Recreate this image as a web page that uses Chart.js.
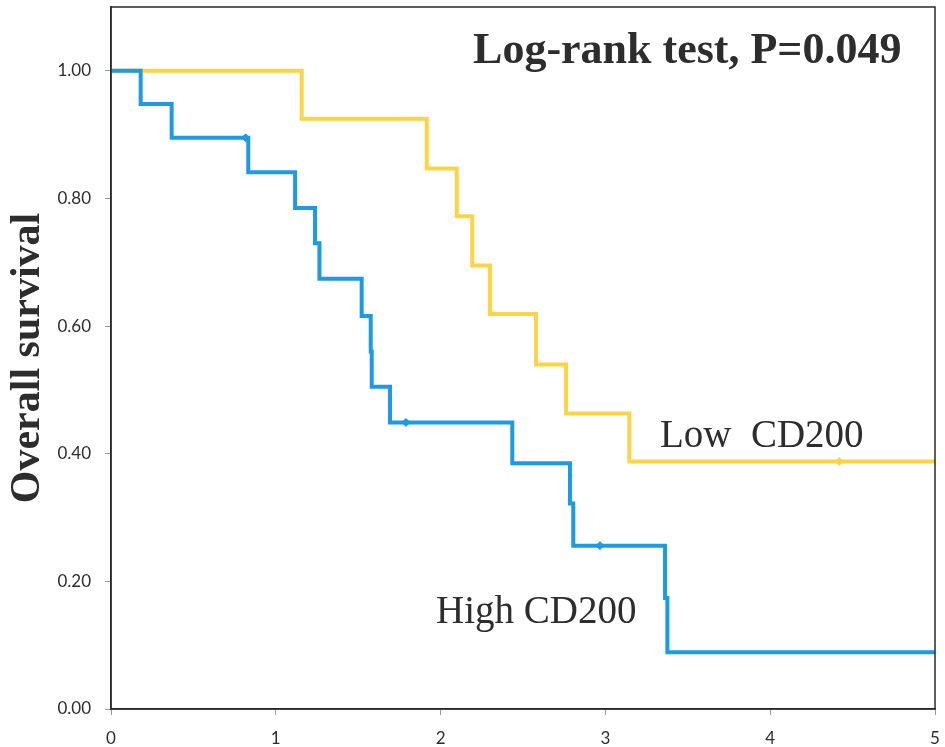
<!DOCTYPE html>
<html>
<head>
<meta charset="utf-8">
<script src="https://cdn.jsdelivr.net/npm/chart.js@4.4.1/dist/chart.umd.min.js"></script>
<style>
    html, body { margin: 0; padding: 0; background: #fff; }
    #wrap { width: 945px; height: 747px; }
</style>
</head>
<body>
<div id="wrap"><canvas id="kmChart"></canvas></div>
<script>
// High CD200 (blue) - time of each step, survival after the step
const highTimes = [0, 0.180, 0.368, 0.833, 1.117, 1.238, 1.265, 1.521, 1.576, 1.582, 1.693, 2.435, 2.785, 2.805, 3.362, 3.376, 5];
const highSurv  = [1, 0.948, 0.895, 0.841, 0.785, 0.730, 0.674, 0.616, 0.560, 0.505, 0.449, 0.385, 0.322, 0.256, 0.174, 0.089, 0.089];
const highCensorTimes = [0.817, 1.790, 2.967];
const highCensorSurv  = [0.895, 0.449, 0.256];

// Low CD200 (yellow)
const lowTimes = [0, 1.157, 1.916, 2.098, 2.192, 2.300, 2.579, 2.761, 3.145, 5];
const lowSurv  = [1, 0.925, 0.847, 0.772, 0.695, 0.619, 0.540, 0.463, 0.388, 0.388];
const lowCensorTimes = [4.419];
const lowCensorSurv  = [0.388];

const yTickValues = [0, 0.2, 0.4, 0.6, 0.8, 1.0];
const yTickLabels = ['0.00', '0.20', '0.40', '0.60', '0.80', '1.00'];
const xTickLabels = ['0', '1', '2', '3', '4', '5'];

// text drawn in the plot: [text, x (years), y (survival), font]
const plotTexts = [
    ['Log-rank test, P=0.049', 2.197, 1.012, 'bold 44px "Liberation Serif"'],
    ['Low  CD200', 3.331, 0.411, '39px "Liberation Serif"'],
    ['High CD200', 1.972, 0.135, '39px "Liberation Serif"']
];

const BLUE = '#1c9be2';
const YELLOW = '#fdd443';

const toPoints = (xs, ys) => xs.map((x, i) => ({ x: x, y: ys[i] }));

// 枠とテキスト
const framePlugin = {
    id: 'frame',
    afterDatasetsDraw(chart) {
        const { ctx, chartArea: a, scales } = chart;
        ctx.save();
        ctx.strokeStyle = '#2a2a2a';
        ctx.lineWidth = 1.5;
        ctx.strokeRect(a.left, a.top, a.right - a.left, a.bottom - a.top);
        ctx.fillStyle = '#2d2d2d';
        ctx.textAlign = 'left';
        ctx.textBaseline = 'alphabetic';
        plotTexts.forEach(([txt, x, y, font]) => {
            ctx.font = font;
            ctx.fillText(txt, scales.x.getPixelForValue(x), scales.y.getPixelForValue(y));
        });
        ctx.restore();
    }
};

const ctx = document.getElementById('kmChart').getContext('2d');
new Chart(ctx, {
    type: 'line',
    data: {
        datasets: [
            {
                label: 'High CD200',
                data: toPoints(highTimes, highSurv),
                borderColor: BLUE,
                borderWidth: 4,
                stepped: 'before',
                pointRadius: 0,
                fill: false,
                order: 1
            },
            {
                label: 'High CD200 censored',
                data: toPoints(highCensorTimes, highCensorSurv),
                showLine: false,
                pointStyle: 'rectRot',
                pointRadius: 4,
                backgroundColor: BLUE,
                borderColor: BLUE,
                borderWidth: 1,
                order: 0
            },
            {
                label: 'Low CD200',
                data: toPoints(lowTimes, lowSurv),
                borderColor: YELLOW,
                borderWidth: 4,
                stepped: 'before',
                pointRadius: 0,
                fill: false,
                order: 3
            },
            {
                label: 'Low CD200 censored',
                data: toPoints(lowCensorTimes, lowCensorSurv),
                showLine: false,
                pointStyle: 'rectRot',
                pointRadius: 4,
                backgroundColor: YELLOW,
                borderColor: YELLOW,
                borderWidth: 1,
                order: 2
            }
        ]
    },
    options: {
        responsive: true,
        maintainAspectRatio: false,
        animation: false,
        layout: { padding: { top: 7, right: 10, left: 0, bottom: 0 } },
        plugins: {
            legend: { display: false },
            tooltip: { enabled: false }
        },
        scales: {
            x: {
                type: 'linear',
                min: 0,
                max: 5,
                afterFit: s => { s.height = 38; s.paddingLeft = 0; s.paddingRight = 0; },
                ticks: {
                    stepSize: 1,
                    padding: 13,
                    color: '#2d2d2d',
                    font: { family: 'Lato', size: 17 },
                    callback: (v, i) => xTickLabels[i]
                },
                grid: { drawOnChartArea: false, drawTicks: true, tickLength: 6, color: '#999' },
                border: { display: true, color: '#2a2a2a', width: 1.5 }
            },
            y: {
                type: 'linear',
                min: 0,
                max: 1.1,
                afterFit: s => { s.width = 111; s.paddingTop = 0; s.paddingBottom = 0; },
                afterBuildTicks: s => { s.ticks = yTickValues.map(v => ({ value: v })); },
                ticks: {
                    padding: 14,
                    color: '#2d2d2d',
                    font: { family: 'Lato', size: 17 },
                    callback: (v, i) => yTickLabels[i]
                },
                grid: { drawOnChartArea: false, drawTicks: true, tickLength: 6, color: '#999' },
                border: { display: true, color: '#2a2a2a', width: 1.5 },
                title: {
                    display: true,
                    text: 'Overall survival',
                    color: '#2d2d2d',
                    font: { family: 'Liberation Serif', size: 42, weight: 'bold' },
                    padding: { top: 3, bottom: 0 }
                }
            }
        }
    },
    plugins: [framePlugin]
});
</script>
</body>
</html>
